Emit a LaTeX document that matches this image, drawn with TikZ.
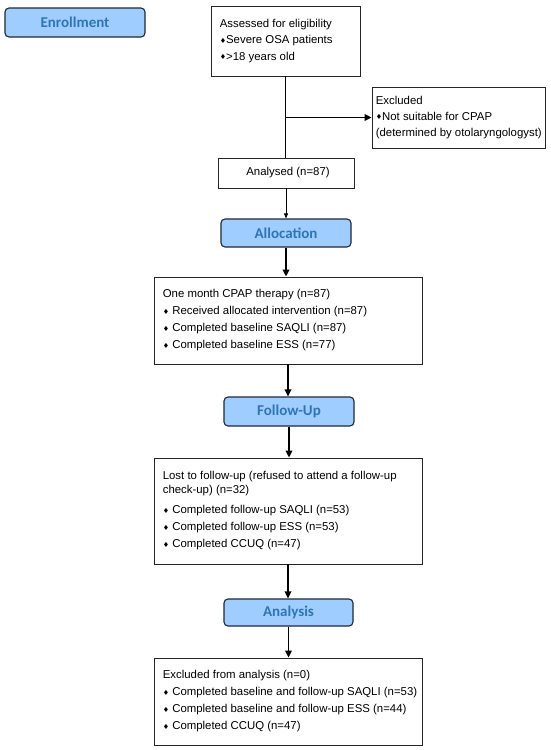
\documentclass[tikz,border=0pt]{standalone}
\usepackage{fontspec}
\usepackage{graphicx}
\setmainfont{Liberation Sans}
\newfontfamily\labfont{Carlito}
\newfontfamily\dejavu{DejaVu Sans}
\usetikzlibrary{arrows.meta}
\definecolor{labfill}{RGB}{160,205,255}
\definecolor{labtext}{RGB}{46,117,182}
\definecolor{labdraw}{RGB}{30,40,55}
\newcommand{\bul}{\raisebox{0.12ex}{\scalebox{0.62}{\dejavu ♦}}}
\tikzset{
  stagebox/.style={draw=labdraw, line width=1.1pt, fill=labfill, rounded corners=4pt,
    text=labtext, font=\labfont\bfseries\fontsize{15}{18}\selectfont, inner sep=0pt},
  infobox/.style={draw=black!85, line width=0.8pt, inner sep=0pt},
  textblock/.style={anchor=west, inner sep=0pt, align=left, font=\fontsize{11.4}{17}\selectfont},
  thinarrow/.style={line width=0.8pt, -{Triangle[length=5pt,width=4pt]}},
  thickarrow/.style={line width=1.7pt, -{Triangle[length=7pt,width=6.5pt]}},
  plainline/.style={line width=0.8pt}
}
\begin{document}
\begin{tikzpicture}[x=1pt,y=-1pt]
\useasboundingbox (0,0) rectangle (550,750);
\fill[white] (0,0) rectangle (550,750);

\node[stagebox, minimum width=140pt, minimum height=29pt] (enr) at (75,22.5) {Enrollment};

\node[infobox, minimum width=149pt, minimum height=70pt] (assess) at (285.5,41) {};
\node[textblock, font=\fontsize{11.4}{16.5}\selectfont] (assesst) at ([xshift=9pt]assess.west)
  {Assessed for eligibility\\ \bul Severe OSA patients\\ \bul >18 years old};

\node[infobox, minimum width=173pt, minimum height=61pt] (excl) at (458.5,117.5) {};
\node[textblock, font=\fontsize{11.4}{16}\selectfont] (exclt) at ([xshift=4pt]excl.west)
  {Excluded\\ \bul Not suitable for CPAP\\ (determined by otolaryngologyst)};

\node[infobox, minimum width=136pt, minimum height=30pt, font=\fontsize{11.4}{17}\selectfont] (anal) at (286,173)
  {\hspace{4pt}Analysed (n=87)};

\node[stagebox, minimum width=130pt, minimum height=28pt] (alloc) at (286,233) {Allocation};

\node[infobox, minimum width=268pt, minimum height=87pt] (cpap) at (288,320.5) {};
\node[textblock] (cpapt) at ([xshift=9pt]cpap.west)
  {One month CPAP therapy (n=87)\\
   \bul\ Received allocated intervention (n=87)\\
   \bul\ Completed baseline SAQLI (n=87)\\
   \bul\ Completed baseline ESS (n=77)};

\node[stagebox, minimum width=130pt, minimum height=29pt] (follow) at (289,411.5) {Follow-Up};

\node[infobox, minimum width=268pt, minimum height=106pt] (lost) at (288,511) {};
\node[textblock] (lostt) at ([xshift=9pt]lost.west)
  {Lost to follow-up (refused to attend a follow-up\\[-3pt]
   check-up) (n=32)\\[3pt]
   \bul\ Completed follow-up SAQLI (n=53)\\
   \bul\ Completed follow-up ESS (n=53)\\
   \bul\ Completed CCUQ (n=47)};

\node[stagebox, minimum width=129pt, minimum height=27pt] (analysis) at (288.5,612.5) {Analysis};

\node[infobox, minimum width=268pt, minimum height=87pt] (final) at (288,701.5) {};
\node[textblock] (finalt) at ([xshift=9pt]final.west)
  {Excluded from analysis (n=0)\\
   \bul\ Completed baseline and follow-up SAQLI (n=53)\\
   \bul\ Completed baseline and follow-up ESS (n=44)\\
   \bul\ Completed CCUQ (n=47)};

\coordinate (j) at (assess.south |- excl.west);
\draw[plainline] (assess.south) -- (assess.south |- anal.north);
\draw[thickarrow] (j) -- (excl.west);
\draw[thinarrow] (anal.south) -- (anal.south |- alloc.north);
\draw[thickarrow] (alloc.south) -- (alloc.south |- cpap.north);
\draw[thickarrow] (cpap.south) -- (cpap.south |- follow.north);
\draw[thickarrow] (follow.south) -- (follow.south |- lost.north);
\draw[thickarrow] (lost.south) -- (lost.south |- analysis.north);
\draw[thickarrow] (analysis.south) -- (analysis.south |- final.north);
\end{tikzpicture}
\end{document}
